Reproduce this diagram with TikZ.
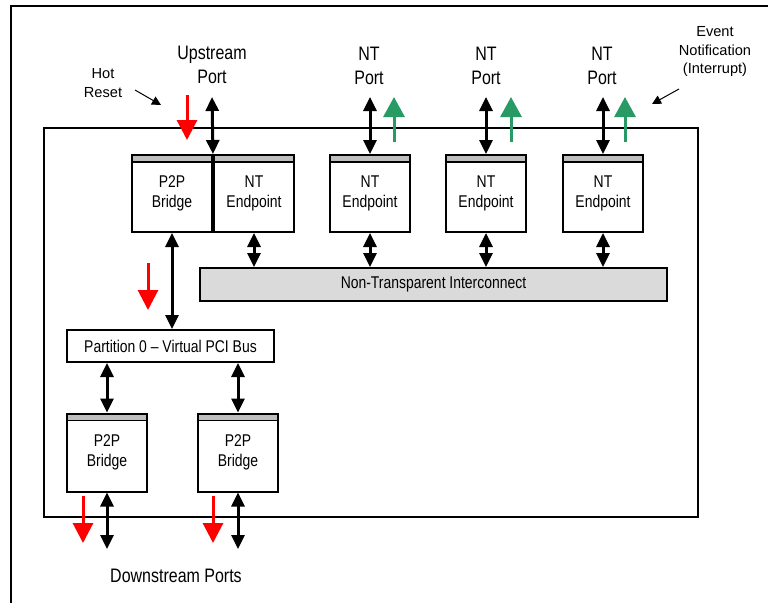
\documentclass[tikz,border=0pt]{standalone}
\usepackage{fontspec}
\setmainfont{Liberation Sans}[FakeStretch=0.82]
\newfontfamily\widefont{Liberation Sans}
\usetikzlibrary{arrows.meta,positioning}
\definecolor{evgreen}{RGB}{40,155,100}
\definecolor{bandgray}{RGB}{190,190,190}
\definecolor{busgray}{RGB}{218,218,218}

\begin{document}
\begin{tikzpicture}[x=1pt,y=-1pt]
    \tikzset{
        blk/.style = {rectangle, draw, line width=2pt, minimum width=80pt, minimum height=77pt, inner sep=0pt, align=center, font=\fontsize{17}{20}\selectfont,
            path picture={\fill[bandgray] (path picture bounding box.north west) rectangle ([yshift=-7pt]path picture bounding box.north east);
                \draw[line width=1.5pt] ([yshift=-7pt]path picture bounding box.north west) -- ([yshift=-7pt]path picture bounding box.north east);}},
        bus/.style = {rectangle, draw, line width=2pt, inner sep=0pt, font=\fontsize{17}{20}\selectfont},
        port/.style = {align=center, font=\fontsize{19.5}{24}\selectfont},
        note/.style = {align=center, font=\widefont\fontsize{14.6}{18.8}\selectfont},
        link/.style = {draw, line width=3pt, {Triangle[length=14pt,width=13pt]}-{Triangle[length=14pt,width=13pt]}},
        rst/.style = {draw=red, line width=3pt, -{Triangle[length=20pt,width=20pt]}},
        evt/.style = {draw=evgreen, line width=3pt, -{Triangle[length=20pt,width=21pt]}},
        hint/.style = {draw, line width=1pt, -{Triangle[length=9pt,width=9pt]}}
    }
    \useasboundingbox (0,0) rectangle (768,603);

    % frame
    \draw[line width=1.5pt] (11,603) -- (11,6) -- (768,6);

    % switch
    \node[draw, line width=2pt, minimum width=654pt, minimum height=389pt, inner sep=0pt](chip) at (371,322.5){};

    \node[blk](p2pu) at (172,193.5){P2P\\Bridge};
    \node[blk](nt0)[right = 0pt of p2pu]{NT\\Endpoint};
    \node[blk](nt1) at (370,193.5){NT\\Endpoint};
    \node[blk](nt2) at (486,193.5){NT\\Endpoint};
    \node[blk](nt3) at (603,193.5){NT\\Endpoint};

    \node[bus, fill=busgray, minimum width=467pt, minimum height=33pt](ntic) at (433.5,284.5){Non-Transparent Interconnect};
    \node[bus, minimum width=207pt, minimum height=32pt](part) at (170.5,346){Partition 0 – Virtual PCI Bus};

    \node[blk, minimum height=78pt](p2pa) at (107,452.5){P2P\\Bridge};
    \node[blk, minimum height=78pt](p2pb) at (238,452.5){P2P\\Bridge};

    % labels
    \node[port](uport) at (212,65){Upstream\\Port};
    \node[port](port1) at (369,66){NT\\Port};
    \node[port](port2) at (486,66){NT\\Port};
    \node[port](port3) at (602,66){NT\\Port};
    \node[port](dport) at (176,576){Downstream Ports};
    \node[note](hot) at (103,83){Hot\\Reset};
    \node[note](event) at (715,51.5){Event\\Notification\\(Interrupt)};

    % ends
    \coordinate (up) at (212,97);
    \coordinate (pt1) at (nt1.north |- up);
    \coordinate (pt2) at (nt2.north |- up);
    \coordinate (pt3) at (nt3.north |- up);
    \coordinate (dna) at (107,549);
    \coordinate (dnb) at (238,549);

    \path [link] (p2pu.north east) -- (up);
    \path [link] (nt1.north) -- (pt1);
    \path [link] (nt2.north) -- (pt2);
    \path [link] (nt3.north) -- (pt3);

    \path [link] (nt0.south) -- (nt0.south |- ntic.north);
    \path [link] (nt1.south) -- (nt1.south |- ntic.north);
    \path [link] (nt2.south) -- (nt2.south |- ntic.north);
    \path [link] (nt3.south) -- (nt3.south |- ntic.north);

    \path [link] (p2pu.south) -- (p2pu.south |- part.north);
    \path [link] (p2pa.north |- part.south) -- (p2pa.north);
    \path [link] (p2pb.north |- part.south) -- (p2pb.north);
    \path [link] (p2pa.south) -- (dna);
    \path [link] (p2pb.south) -- (dnb);

    % hot reset
    \coordinate (r0a) at (187,95);  \coordinate (r0b) at (187,140);
    \coordinate (r1a) at (148,263); \coordinate (r1b) at (148,310);
    \coordinate (r2a) at (83,496);  \coordinate (r2b) at (83,543);
    \coordinate (r3a) at (213,496); \coordinate (r3b) at (213,543);
    \path [rst] (r0a) -- (r0b);
    \path [rst] (r1a) -- (r1b);
    \path [rst] (r2a) -- (r2b);
    \path [rst] (r3a) -- (r3b);

    % event notification
    \coordinate (g1a) at (394,142); \coordinate (g1b) at (394,97);
    \coordinate (g2a) at (511,142); \coordinate (g2b) at (511,97);
    \coordinate (g3a) at (625,142); \coordinate (g3b) at (625,97);
    \path [evt] (g1a) -- (g1b);
    \path [evt] (g2a) -- (g2b);
    \path [evt] (g3a) -- (g3b);

    \coordinate (h0) at (135,90);  \coordinate (h1) at (161,105);
    \coordinate (e0) at (679,89);  \coordinate (e1) at (652,104);
    \path [hint] (h0) -- (h1);
    \path [hint] (e0) -- (e1);
\end{tikzpicture}
\end{document}
